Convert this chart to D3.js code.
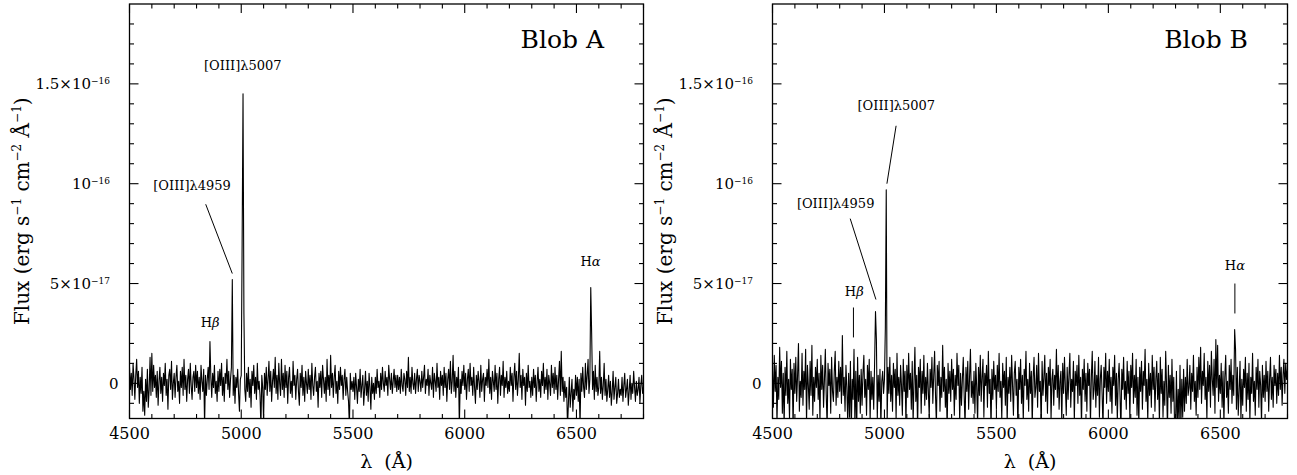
<!DOCTYPE html>
<html>
<head>
<meta charset="utf-8">
<script src="https://cdn.jsdelivr.net/npm/d3@7"></script>
<style>
  html, body { margin: 0; padding: 0; background: #fff; }
  svg { display: block; font-family: "DejaVu Serif", serif; }
</style>
</head>
<body>
<div id="chart"></div>
<script>
// spectra: flux in units of 1e-18 erg/s/cm2/A, one value every 4 A starting at 4500 A
const waveStart = 4500;
const waveStep = 4;

const fluxBlobA = [
  8,-3,5,-6,10,2,-8,4,12,-2,6,-10,3,-5,8,-14,-4,-16,2,-9,7,-12,-3,13,-6,
  15,-4,9,-2,4,-7,6,-11,1,8,-5,3,-9,5,-1,10,-6,2,-13,4,7,-3,11,-8,0,
  5,-7,3,9,-4,1,-10,6,-2,8,-6,12,-3,4,-9,2,7,-5,10,-1,-8,3,6,-4,9,
  -2,6,-5,3,-8,9,1,-4,7,-21,4,-6,2,8,-3,21,3,-7,5,-2,9,-5,1,-9,6,
  -4,7,-1,10,-6,3,-9,5,0,12,-3,6,-7,2,8,52,-6,4,-10,3,-2,7,-5,-14,2,
  4,70,145,35,-3,-9,5,-4,8,-7,2,-12,6,-1,9,-5,3,-8,10,-3,1,-6,-22,4,-2,
  -19,5,-3,8,-6,2,11,-4,6,-9,1,7,-2,13,-5,4,-8,10,0,-6,12,-3,5,-7,9,
  -2,6,-10,3,8,-5,1,-7,11,-1,4,-8,2,7,-4,-11,5,-2,9,-6,3,-9,6,0,-5,
  7,-3,4,-8,10,-1,-6,3,8,-4,1,-12,5,-2,6,-7,9,2,-5,3,-9,12,-3,4,-6,
  14,-2,5,-7,3,9,-5,1,-10,6,-3,8,-1,4,-8,2,7,-6,3,-4,-9,-22,5,-3,1,
  -4,3,-8,5,-2,-10,2,-4,7,-7,-1,4,-11,-3,6,-6,1,-9,5,-2,-13,3,-5,0,-8,
  3,-5,7,-2,1,-7,5,-3,8,0,-4,6,-1,3,-6,9,2,-3,5,-5,1,7,-2,4,-4,
  4,-3,3,-5,7,-1,-4,5,2,-6,6,-2,13,-4,3,-5,8,0,-3,5,-5,2,7,-4,4,
  1,-4,6,-2,3,9,-5,2,-1,7,-6,4,0,-3,8,-7,5,1,-4,10,-2,3,-8,6,-1,
  4,-6,8,-2,5,-9,2,7,-3,11,-5,1,14,-4,6,-7,3,-2,8,-22,2,-5,6,-1,9,
  -3,5,-8,2,7,-4,10,-1,3,-6,8,-2,-10,4,-3,6,1,-7,9,-4,2,5,-9,3,-1,
  7,-2,12,-5,3,-8,6,1,-4,9,-3,5,-10,2,8,-6,4,-1,11,-7,3,-2,6,-5,1,
  -4,8,-1,5,-9,3,10,-3,6,-6,2,15,-2,4,-8,7,-1,3,-11,5,-4,9,-2,1,-7,
  3,-6,7,-2,4,-9,1,8,-4,2,-7,6,-1,10,-5,3,-3,7,-8,4,0,-6,9,-2,5,
  -5,8,-3,4,-8,2,11,-6,16,-4,3,-9,1,-7,-2,-22,-10,3,-12,-5,2,-14,-3,-8,4,
  -6,3,-9,2,-22,5,-4,8,-2,-7,10,-3,4,12,-5,2,48,25,-3,6,-8,9,-4,3,-6,
  -2,16,-5,3,-8,-1,10,-6,2,-9,-3,4,-7,1,-11,-4,6,-8,-2,3,-10,-5,2,-7,-3,
  -6,3,-9,-1,5,-7,-3,2,-11,-4,4,-8,0,-5,6,-2,-9,1,-6,-3,3,-10,-1,4,-5,
  -2
];

const fluxBlobB = [
  6,-12,14,-4,9,-20,3,-8,18,-2,11,-15,5,-22,8,-6,16,-10,2,-18,12,-3,7,-24,10,
  -5,13,-9,4,20,-14,1,-7,15,-11,6,-3,17,-20,9,-1,-13,11,-6,19,-16,3,-9,8,-2,
  12,-8,5,-19,14,-3,9,-12,2,17,-6,-22,10,-1,7,-15,13,-4,-9,6,16,-11,3,-7,11,
  -4,8,-10,24,-6,3,-14,9,-2,-20,5,-17,11,-23,2,-8,17,-21,6,-24,13,-9,4,-15,7,
  -11,5,14,-7,2,-16,9,-3,12,-19,6,-8,3,-13,10,36,22,-18,4,-9,7,-22,1,6,-5,
  2,28,97,-20,8,-5,13,-9,4,-14,10,-2,7,-18,15,-6,3,-11,9,-1,-16,12,-4,6,-21,
  9,-7,15,-3,5,-13,11,-20,1,18,-9,4,-23,8,-2,12,-15,6,-5,14,-11,3,-8,10,-4,
  -17,7,-2,13,-10,4,16,-6,-21,9,-1,11,-14,3,-7,19,-4,8,-12,2,-24,10,-5,6,-9,
  12,-3,7,-16,4,-8,15,-1,9,-19,5,-11,2,13,-6,-22,8,-4,11,-13,3,17,-7,1,-10,
  6,-15,10,-2,-20,8,-6,14,-9,3,12,-17,5,-1,9,-12,16,-5,2,-23,7,-8,11,-3,4,
  -13,9,-4,15,-7,1,-18,10,-2,6,-11,13,-20,3,-5,8,-9,14,-1,-16,5,11,-6,2,-24,
  8,-3,12,-10,4,-19,7,-1,16,-8,2,-14,10,-5,6,-21,3,13,-7,-2,9,-12,15,-4,1,
  -22,11,-6,3,14,-9,5,-15,8,-1,12,-18,2,7,-11,4,-3,17,-7,9,-13,1,6,-20,10,
  -5,13,-2,-16,8,-8,4,15,-12,2,-4,11,-19,6,-1,9,-10,14,-6,3,-22,7,-3,12,-9,
  5,-14,10,-1,7,-20,3,16,-8,-3,11,-12,4,-6,13,-17,2,9,-5,-23,8,-2,15,-10,6,
  -4,12,-9,3,-15,8,-1,14,-11,5,-19,2,10,-6,-24,7,-3,13,-8,1,-13,11,-5,6,-18,
  9,-2,15,-10,4,-7,12,-16,3,-21,8,-4,11,-13,6,-1,17,-9,2,-19,10,-6,5,-12,14,
  -3,8,-14,2,11,-8,5,-20,13,-5,7,-17,1,-11,16,-2,-23,9,-7,4,-15,12,-9,3,-24,
  -21,6,-24,-3,-19,9,-22,2,-17,7,-14,3,-10,12,-6,-2,9,-13,5,-4,14,-9,1,-16,8,
  -7,13,-3,18,-10,6,-1,15,-8,3,-18,11,-4,9,-12,16,2,-6,12,-15,22,-2,19,-9,4,
  -5,10,-12,6,-20,3,14,-7,1,-15,9,-3,12,-10,4,-6,27,17,-13,8,-16,-4,11,-18,2,
  -11,7,-2,13,-14,5,-8,10,-19,3,-5,15,-9,1,-16,8,-3,12,-12,6,-1,-20,9,-7,4,
  -9,11,-4,6,-14,2,13,-8,3,-12,9,-1,7,-10,5,-6,14,-3,8,-11,4,12,-5,10,2,
  7
];

// axes
const waveDomain = [4500, 6800];
const fluxDomain = [-1.76e-17, 1.9e-16];
const xTickValues = [4500, 5000, 5500, 6000, 6500];
const xTickLabels = ["4500", "5000", "5500", "6000", "6500"];
const xMinorStep = 100;
const yTickValues = [0, 5e-17, 1e-16, 1.5e-16];
const yTickMantissa = ["0", "5×10", "10", "1.5×10"];
const yTickExponent = ["", "−17", "−16", "−16"];
const yMinorStep = 1e-17;

// line identifications: label anchor (wave, flux in 1e-18) and leader segments
const labelsBlobA = [
  { name: "[OIII]λ5007", wave: 5007, flux: 157 },
  { name: "[OIII]λ4959", wave: 4780, flux: 97 },
  { name: "Hβ", wave: 4861, flux: 28 },
  { name: "Hα", wave: 6563, flux: 59 }
];
const leadersBlobA = [
  { w1: 4841, f1: 89.7, w2: 4960, f2: 55 }
];
const labelsBlobB = [
  { name: "[OIII]λ5007", wave: 5053, flux: 136.7 },
  { name: "[OIII]λ4959", wave: 4782, flux: 87.6 },
  { name: "Hβ", wave: 4865, flux: 44 },
  { name: "Hα", wave: 6565, flux: 57 }
];
const leadersBlobB = [
  { w1: 5052, f1: 129, w2: 5011, f2: 100 },
  { w1: 4847, f1: 82.5, w2: 4962, f2: 42 },
  { w1: 4861.5, f1: 38, w2: 4861.5, f2: 23 },
  { w1: 6565, f1: 50, w2: 6565, f2: 35 }
];

class SpectrumPanel {
  constructor(_config, _flux, _labels, _leaders) {
    this.config = {
      svg: _config.svg,
      id: _config.id,
      title: _config.title,
      left: _config.left,
      right: _config.right,
      top: _config.top || 4,
      bottom: _config.bottom || 418.5,
      majorTick: 9,
      minorTick: 4.5
    };
    this.flux = _flux;
    this.labels = _labels;
    this.leaders = _leaders;
    this.initVis();
  }

  initVis() {
    let vis = this;
    const c = vis.config;

    vis.x = d3.scaleLinear().domain(waveDomain).range([c.left, c.right]);
    vis.y = d3.scaleLinear().domain(fluxDomain).range([c.bottom, c.top]);

    vis.g = c.svg.append("g");

    vis.g.append("clipPath")
      .attr("id", `clip-${c.id}`)
      .append("rect")
      .attr("x", c.left)
      .attr("y", c.top)
      .attr("width", c.right - c.left)
      .attr("height", c.bottom - c.top);

    vis.drawSpectrum();
    vis.drawFrame();
    vis.drawTicks();
    vis.drawAxisLabels();
    vis.drawAnnotations();
  }

  drawSpectrum() {
    let vis = this;
    const data = vis.flux.map((f, i) => ({ wave: waveStart + i * waveStep, flux: f * 1e-18 }));

    const line = d3.line()
      .x(d => vis.x(d.wave))
      .y(d => vis.y(d.flux));

    vis.g.append("path")
      .datum(data)
      .attr("clip-path", `url(#clip-${vis.config.id})`)
      .attr("fill", "none")
      .attr("stroke", "#000")
      .attr("stroke-width", 1.1)
      .attr("stroke-linejoin", "round")
      .attr("d", line);
  }

  drawFrame() {
    let vis = this;
    const c = vis.config;
    vis.g.append("rect")
      .attr("x", c.left)
      .attr("y", c.top)
      .attr("width", c.right - c.left)
      .attr("height", c.bottom - c.top)
      .attr("fill", "none")
      .attr("stroke", "#000")
      .attr("stroke-width", 1.3);
  }

  drawTicks() {
    let vis = this;
    const c = vis.config;

    const isMajorY = v => Math.abs(Math.round(v / yMinorStep)) % 5 === 0;
    const xTicks = d3.range(waveDomain[0], waveDomain[1] + 1, xMinorStep)
      .map(v => ({ v, len: xTickValues.includes(v) ? c.majorTick : c.minorTick }));
    const yTicks = d3.range(-1, 19).map(k => k * yMinorStep)
      .map(v => ({ v, len: isMajorY(v) ? c.majorTick : c.minorTick }));

    const tg = vis.g.append("g").attr("stroke", "#000").attr("stroke-width", 1.1);

    tg.selectAll(".xb").data(xTicks).join("line")
      .attr("class", "xb")
      .attr("x1", d => vis.x(d.v)).attr("x2", d => vis.x(d.v))
      .attr("y1", c.bottom).attr("y2", d => c.bottom - d.len);
    tg.selectAll(".xt").data(xTicks).join("line")
      .attr("class", "xt")
      .attr("x1", d => vis.x(d.v)).attr("x2", d => vis.x(d.v))
      .attr("y1", c.top).attr("y2", d => c.top + d.len);
    tg.selectAll(".yl").data(yTicks).join("line")
      .attr("class", "yl")
      .attr("y1", d => vis.y(d.v)).attr("y2", d => vis.y(d.v))
      .attr("x1", c.left).attr("x2", d => c.left + d.len);
    tg.selectAll(".yr").data(yTicks).join("line")
      .attr("class", "yr")
      .attr("y1", d => vis.y(d.v)).attr("y2", d => vis.y(d.v))
      .attr("x1", c.right).attr("x2", d => c.right - d.len);

    vis.g.selectAll(".xlab").data(xTickValues).join("text")
      .attr("class", "xlab")
      .attr("x", d => vis.x(d))
      .attr("y", c.bottom + 20.5)
      .attr("text-anchor", "middle")
      .style("font-size", "16px")
      .text((d, i) => xTickLabels[i]);

    const ylab = vis.g.selectAll(".ylab").data(yTickValues).join("text")
      .attr("class", "ylab")
      .attr("x", (d, i) => c.left - (yTickExponent[i] ? 19.5 : 11))
      .attr("y", d => vis.y(d) + 5.5)
      .attr("text-anchor", "end")
      .style("font-size", "15px");
    ylab.append("tspan").text((d, i) => yTickMantissa[i]);
    ylab.filter((d, i) => yTickExponent[i] !== "")
      .append("tspan")
      .attr("dy", -5.5)
      .style("font-size", "9px")
      .text(d => yTickExponent[yTickValues.indexOf(d)]);
  }

  drawAxisLabels() {
    let vis = this;
    const c = vis.config;

    vis.g.append("text")
      .attr("x", (c.left + c.right) / 2)
      .attr("y", c.bottom + 49.5)
      .attr("text-anchor", "middle")
      .style("font-size", "19px")
      .style("word-spacing", "6px")
      .text("λ (Å)");

    const yt = vis.g.append("text")
      .attr("transform", `translate(${c.left - 101},${(c.top + c.bottom) / 2}) rotate(-90)`)
      .attr("text-anchor", "middle")
      .style("font-size", "20px");
    const parts = [["Flux (erg s", 0], ["−1", 1], [" cm", 0], ["−2", 1], [" Å", 0], ["−1", 1], [")", 0]];
    parts.forEach(([t, sup], i) => {
      const prevSup = i > 0 && parts[i - 1][1];
      const ts = yt.append("tspan").text(t);
      if (sup) ts.attr("dy", -8).style("font-size", "12px");
      else if (prevSup) ts.attr("dy", 8);
    });

    vis.g.append("text")
      .attr("x", c.right - 39.5)
      .attr("y", c.top + 43.5)
      .attr("text-anchor", "end")
      .style("font-size", "25px")
      .text(c.title);
  }

  drawAnnotations() {
    let vis = this;

    const lab = vis.g.selectAll(".linelab").data(vis.labels).join("text")
      .attr("class", "linelab")
      .attr("x", d => vis.x(d.wave))
      .attr("y", d => vis.y(d.flux * 1e-18))
      .attr("text-anchor", "middle")
      .style("font-size", "13px");
    lab.each(function (d) {
      const t = d3.select(this);
      if (d.name.startsWith("H")) {
        t.append("tspan").text("H");
        t.append("tspan").style("font-style", "italic").text(d.name.slice(1));
      } else {
        t.text(d.name);
      }
    });

    vis.g.selectAll(".leader").data(vis.leaders).join("line")
      .attr("class", "leader")
      .attr("x1", d => vis.x(d.w1)).attr("y1", d => vis.y(d.f1 * 1e-18))
      .attr("x2", d => vis.x(d.w2)).attr("y2", d => vis.y(d.f2 * 1e-18))
      .attr("stroke", "#000")
      .attr("stroke-width", 1);
  }
}

const svg = d3.select("#chart").append("svg")
  .attr("width", 1297)
  .attr("height", 475);

new SpectrumPanel({ svg, id: "a", title: "Blob A", left: 129.5, right: 643.5 }, fluxBlobA, labelsBlobA, leadersBlobA);
new SpectrumPanel({ svg, id: "b", title: "Blob B", left: 772.5, right: 1287.5 }, fluxBlobB, labelsBlobB, leadersBlobB);
</script>
</body>
</html>
